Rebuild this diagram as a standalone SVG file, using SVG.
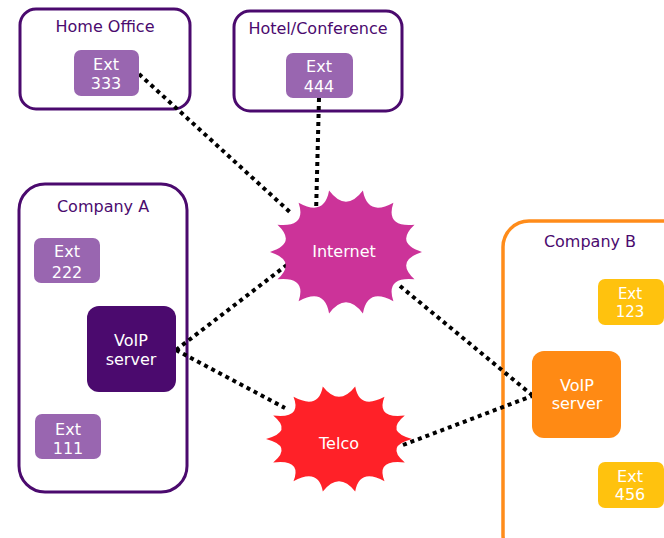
<svg xmlns="http://www.w3.org/2000/svg" width="664" height="538" viewBox="0 0 664 538">
<style>
text{font-family:"DejaVu Sans","Verdana",sans-serif;font-size:16px;text-anchor:middle}
.cont{fill:#fff;stroke:#4B0A6E;stroke-width:3}
.title{fill:#4B0A6E}
.ext{fill:#9966B0}
.lbl{fill:#fff}
.sm{font-size:15px}
.conn{fill:none;stroke:#000;stroke-width:4;stroke-dasharray:4 4}
</style>
<rect width="664" height="538" fill="#fff"/>
<g id="home-office">
<rect class="cont" x="20" y="9" width="170" height="100" rx="16"/>
<text class="title" x="105" y="32">Home Office</text>
</g>
<g id="hotel-conference">
<rect class="cont" x="234" y="11" width="168" height="100" rx="16"/>
<text class="title" x="318" y="34">Hotel/Conference</text>
</g>
<g id="company-a">
<rect class="cont" x="19" y="184" width="168" height="308" rx="26"/>
<text class="title" x="103" y="212">Company A</text>
</g>
<g id="company-b">
<rect x="503" y="221" width="190" height="340" rx="26" fill="#fff" stroke="#FF8C1A" stroke-width="3.5"/>
<text class="title" x="590" y="247">Company B</text>
</g>
<g id="connectors">
<line class="conn" x1="139" y1="74" x2="292" y2="214"/>
<line class="conn" x1="319" y1="98" x2="316" y2="214"/>
<line class="conn" x1="176" y1="350" x2="292" y2="261"/>
<line class="conn" x1="176" y1="350" x2="285" y2="408"/>
<line class="conn" x1="400" y1="286" x2="532" y2="395"/>
<line class="conn" x1="403" y1="445" x2="532" y2="396"/>
</g>
<g id="ext-333">
<rect class="ext" x="74" y="50" width="65" height="46" rx="7"/>
<text class="lbl" x="106" y="70">Ext</text>
<text class="lbl" x="106" y="89">333</text>
</g>
<g id="ext-444">
<rect class="ext" x="286" y="53" width="67" height="45" rx="7"/>
<text class="lbl" x="319" y="72">Ext</text>
<text class="lbl" x="319" y="92">444</text>
</g>
<g id="ext-222">
<rect class="ext" x="34" y="238" width="66" height="45" rx="7"/>
<text class="lbl" x="67" y="257">Ext</text>
<text class="lbl" x="67" y="278">222</text>
</g>
<g id="voip-a">
<rect x="87" y="306" width="89" height="86" rx="12" fill="#4B0A6E"/>
<text class="lbl" x="131" y="346">VoIP</text>
<text class="lbl" x="131" y="365">server</text>
</g>
<g id="ext-111">
<rect class="ext" x="35" y="414" width="66" height="45" rx="7"/>
<text class="lbl" x="68" y="435">Ext</text>
<text class="lbl" x="68" y="454">111</text>
</g>
<g id="ext-123">
<rect x="598" y="279" width="66" height="46" rx="7" fill="#FFC20E"/>
<text class="lbl sm" x="630" y="299">Ext</text>
<text class="lbl sm" x="630" y="317">123</text>
</g>
<g id="voip-b">
<rect x="532" y="351" width="89" height="87" rx="12" fill="#FF8A14"/>
<text class="lbl" x="577" y="391">VoIP</text>
<text class="lbl" x="577" y="409">server</text>
</g>
<g id="ext-456">
<rect x="598" y="462" width="66" height="46" rx="7" fill="#FFC20E"/>
<text class="lbl" x="630" y="482">Ext</text>
<text class="lbl" x="630" y="500">456</text>
</g>
<g id="internet">
<path fill="#CC3399" d="M422,252 Q394.7,260.7 414.5,279.3 Q385.1,276.3 393.4,301.3 Q367.7,287.1 362.9,313.4 Q346,291 329.1,313.4 Q324.3,287.1 298.6,301.3 Q306.9,276.3 277.5,279.3 Q297.3,260.7 270,252 Q297.3,243.3 277.5,224.7 Q306.9,227.7 298.6,202.7 Q324.3,216.9 329.1,190.6 Q346,213 362.9,190.6 Q367.7,216.9 393.4,202.7 Q385.1,227.7 414.5,224.7 Q394.7,243.3 422,252 Z"/>
<text class="lbl" x="344" y="257">Internet</text>
</g>
<g id="telco">
<path fill="#FF2128" d="M412,439 Q384.8,446.1 404.8,462.4 Q375.7,459 384.5,481.2 Q359.4,467.8 355.2,491.6 Q339,471 322.8,491.6 Q318.6,467.8 293.5,481.2 Q302.3,459 273.2,462.4 Q293.2,446.1 266,439 Q293.2,431.9 273.2,415.6 Q302.3,419 293.5,396.8 Q318.6,410.2 322.8,386.4 Q339,407 355.2,386.4 Q359.4,410.2 384.5,396.8 Q375.7,419 404.8,415.6 Q384.8,431.9 412,439 Z"/>
<text class="lbl" x="339" y="449">Telco</text>
</g>
</svg>
